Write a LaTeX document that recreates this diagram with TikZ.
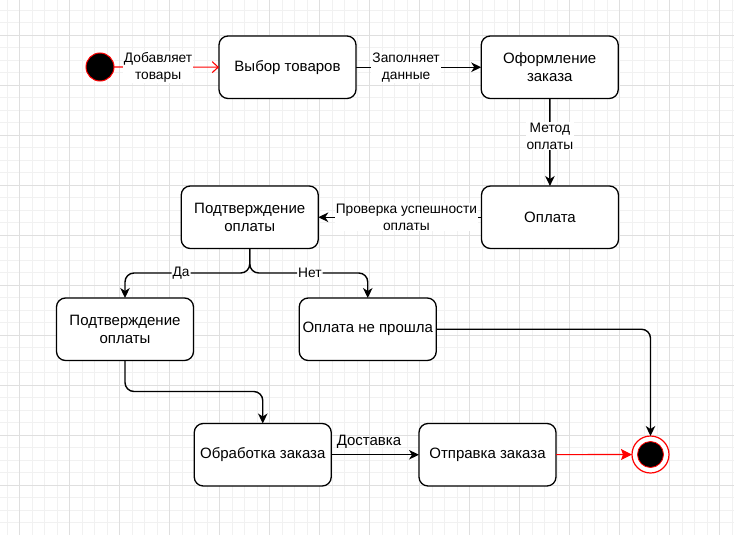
\documentclass[tikz,border=0pt]{standalone}
\usepackage{fontspec}
\setmainfont{Liberation Sans}
\usetikzlibrary{arrows.meta,calc}

\definecolor{gridminor}{HTML}{F1F1F1}
\definecolor{gridmajor}{HTML}{DFDFDF}
\definecolor{flowred}{HTML}{FF0000}

\tikzset{
  state/.style={draw=black, line width=1.3pt, rounded corners=9pt, fill=white,
    minimum width=137pt, minimum height=62.5pt, align=center, inner sep=2pt,
    font=\fontsize{15}{18}\selectfont},
  edge/.style={draw=black, line width=1.4pt,
    -{Stealth[length=10pt,width=9.5pt,inset=3pt]}},
  redopen/.style={draw=flowred, line width=1.1pt,
    -{Straight Barb[length=6pt,width=11pt,line width=1.1pt]}},
  redfill/.style={draw=flowred, line width=1.2pt,
    -{Stealth[length=11pt,width=11pt,inset=2pt,fill=flowred]}},
  lbl/.style={fill=white, inner sep=1pt, align=center,
    font=\fontsize{13.75}{16.7}\selectfont},
  minorline/.style={draw=gridminor, line width=0.6pt},
  majorline/.style={draw=gridmajor, line width=0.7pt},
}

\begin{document}
\begin{tikzpicture}[x=1pt, y=-1pt, outer sep=0pt]
  \useasboundingbox (0,0) rectangle (734,535);
  \fill[white] (0,0) rectangle (734,535);

  % background grid: fine lines every 12.5, heavier lines every 50
  \foreach \gx in {7,19.5,...,734} {\draw[minorline] (\gx,0) -- (\gx,535);}
  \foreach \gy in {10,22.5,...,535} {\draw[minorline] (0,\gy) -- (734,\gy);}
  \foreach \gx in {19.5,69.5,...,734} {\draw[majorline] (\gx,0) -- (\gx,535);}
  \foreach \gy in {35,85,...,535} {\draw[majorline] (0,\gy) -- (734,\gy);}

  % initial and final states
  \node[circle, fill=black, draw=flowred, line width=1pt, minimum size=28pt] (start) at (100,67) {};
  \node[circle, fill=white, draw=flowred, line width=1.2pt, minimum size=37pt] (finish) at (650.5,454.5) {};
  \node[circle, fill=black, draw=flowred, line width=0.8pt, minimum size=26pt] (finishdot) at (finish) {};

  % states
  \node[state] (choose)   at (287.5,67.25) {Выбор товаров};
  \node[state] (checkout) at (549.75,67.25) {Оформление\\заказа};
  \node[state] (pay)      at (550,217.25) {Оплата};
  \node[state] (confirm)  at (249.75,217.25) {Подтверждение\\оплаты};
  \node[state] (confirmed) at (125,329.25) {Подтверждение\\оплаты};
  \node[state] (failed)   at (367.75,329.25) {Оплата не прошла};
  \node[state] (process)  at (262.75,454.75) {Обработка заказа};
  \node[state] (ship)     at (487.5,454.75) {Отправка заказа};

  % transitions
  \draw[redopen] (start) -- node[lbl, pos=0.42] {Добавляет\\товары} (choose);
  \draw[edge] (choose) -- node[lbl, pos=0.4] {Заполняет\\данные} (checkout);
  \draw[edge] (checkout) -- node[lbl, pos=0.43] {Метод\\оплаты} (pay);
  \draw[edge] (pay) -- node[lbl, pos=0.46] {Проверка успешности\\оплаты} (confirm);

  \coordinate (split) at ($(confirm.south)+(0,24.5)$);
  \draw[edge, rounded corners=9pt] (confirm.south) -- (split)
    -- node[lbl, pos=0.55] {Да} (split -| confirmed.north) -- (confirmed.north);
  \draw[edge, rounded corners=9pt] (confirm.south) -- (split)
    -- node[lbl, pos=0.51] {Нет} (split -| failed.north) -- (failed.north);

  \coordinate (bend) at ($(confirmed.south)+(0,31)$);
  \draw[edge, rounded corners=9pt] (confirmed.south) -- (bend) -- (bend -| process.north) -- (process.north);

  \draw[edge] (process) -- node[lbl, pos=0.43, yshift=12.5pt, fill=none,
    font=\fontsize{15}{18}\selectfont] {Доставка} (ship);
  \draw[redfill] (ship) -- (finish);
  \draw[edge, rounded corners=9pt] (failed.east) -- (failed.east -| finish.north) -- (finish.north);
\end{tikzpicture}
\end{document}
